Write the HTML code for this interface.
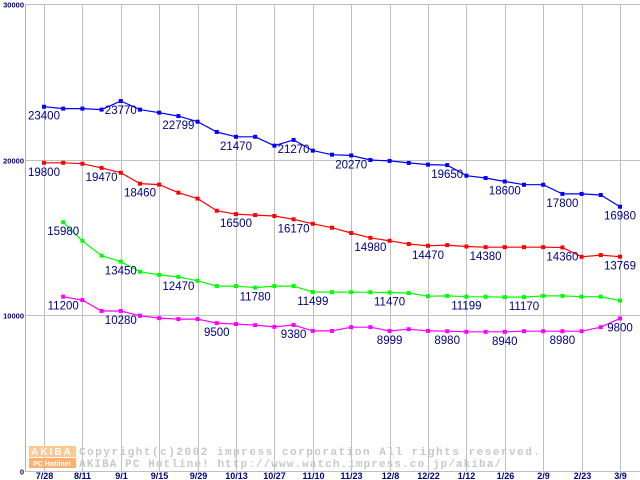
<!DOCTYPE html>
<html><head><meta charset="utf-8"><style>
body{margin:0;background:#fff;width:640px;height:480px;overflow:hidden}
svg{display:block;font-family:"Liberation Sans",sans-serif}
</style></head><body>
<svg id="chart" width="640" height="480" viewBox="0 0 640 480" xmlns="http://www.w3.org/2000/svg">
<g id="grid"></g>
<g id="watermark">
  <rect x="29" y="446" width="47" height="11" fill="#ffc890"/>
  <text x="52" y="455" text-anchor="middle" font-size="10" font-weight="bold" fill="#fff" letter-spacing="2">AKIBA</text>
  <rect x="29" y="458" width="47" height="10" fill="#ffb070"/>
  <text x="52" y="466" text-anchor="middle" font-size="7" font-weight="bold" fill="#fff">PC Hotline!</text>
  <text x="79" y="455" textLength="461" lengthAdjust="spacing" font-family="Liberation Mono, monospace" font-size="11" font-weight="bold" fill="#c8c8c8">Copyright(c)2002 impress corporation All rights reserved.</text>
  <text x="79" y="467" textLength="422" lengthAdjust="spacing" font-family="Liberation Mono, monospace" font-size="11" font-weight="bold" fill="#c8c8c8">AKIBA PC Hotline!  http://www.watch.impress.co.jp/akiba/</text>
</g>
<g id="series"></g>
<g id="labels"></g>
</svg>
<script>
const xTickLabels = ["7/28","8/11","9/1","9/15","9/29","10/13","10/27","11/10","11/23","12/8","12/22","1/12","1/26","2/9","2/23","3/9"];
const yTicks = [0,10000,20000,30000];
const blueValues = [23400,23280,23280,23215,23770,23215,23020,22799,22440,21780,21470,21470,20900,21270,20580,20320,20270,19980,19920,19790,19680,19650,18970,18820,18600,18390,18390,17800,17800,17730,16980];
const redValues = [19800,19800,19740,19470,19160,18460,18400,17880,17500,16720,16500,16440,16380,16170,15880,15630,15290,14980,14790,14580,14470,14510,14420,14380,14380,14380,14380,14360,13760,13870,13769];
const greenValues = [null,15980,14790,13830,13450,12800,12600,12470,12220,11880,11880,11780,11880,11880,11499,11490,11490,11480,11470,11430,11230,11250,11199,11190,11170,11170,11250,11250,11200,11200,10950];
const magentaValues = [null,11200,10980,10280,10280,9970,9820,9760,9760,9500,9440,9370,9260,9380,9000,9000,9240,9240,8999,9110,9000,8980,8940,8940,8940,8980,8980,8980,8980,9240,9800];
const blueLabelIdx = [0,4,7,10,13,16,21,24,27,30];
const redLabelIdx = [0,3,5,10,13,17,20,23,27,30];
const greenLabelIdx = [1,4,7,11,14,18,22,25];
const magentaLabelIdx = [1,4,9,13,18,21,24,27,30];

const NS="http://www.w3.org/2000/svg";
const X0=44, STEP=19.2;
function xScale(i){return X0+STEP*i;}
function yScale(v){return 471 - v*(467/30000);}
function mk(tag,attrs,parent){const e=document.createElementNS(NS,tag);for(const k in attrs)e.setAttribute(k,attrs[k]);parent.appendChild(e);return e;}

const grid=document.getElementById('grid');
xTickLabels.forEach((t,k)=>{
  const x=Math.round(xScale(k*2))+0.5;
  const l=mk('line',{x1:x,y1:4,x2:x,y2:471,stroke:'#c0c0c0','stroke-width':1},grid);
  
  
  const tx=mk('text',{x:x,y:479,'text-anchor':'middle','font-size':9,'font-weight':'bold',fill:'#000080'},grid);
  tx.textContent=t;
  
  
});
yTicks.forEach(v=>{
  const y=Math.round(yScale(v))+0.5;
  const l=mk('line',{x1:25,y1:y,x2:640,y2:y,stroke:'#c0c0c0','stroke-width':1},grid);
  
  
  const tx=mk('text',{x:24,y:y+3,'text-anchor':'end','font-size':7.5,'font-weight':'bold',fill:'#000080'},grid);
  tx.textContent=String(v);
  
  
});
const ax=mk('line',{x1:25.5,y1:4,x2:25.5,y2:471,stroke:'#b0b0b0','stroke-width':1},grid);



const seriesG=document.getElementById('series'), labelsG=document.getElementById('labels');
function drawSeries(vals,color,name,labelIdx){
  const g=mk('g',{},seriesG);
  
  
  const pts=[];
  vals.forEach((v,i)=>{if(v!=null)pts.push([xScale(i),yScale(v)]);});
  const p=mk('polyline',{points:pts.map(q=>q[0].toFixed(1)+','+q[1].toFixed(1)).join(' '),fill:'none',stroke:color,'stroke-width':1.2},g);
  
  
  vals.forEach((v,i)=>{
    if(v==null)return;
    const r=mk('rect',{x:xScale(i)-2,y:yScale(v)-2,width:4,height:4,fill:color},g);
    
    
  });
  labelIdx.forEach(i=>{
    const v=vals[i]; if(v==null)return;
    let x=xScale(i); if(x>624)x=624;
    const t=mk('text',{x:x,y:yScale(v)+13,'text-anchor':'middle','font-size':11.5,fill:'#000080'},labelsG);
    t.textContent=String(v);
    
    
  });
}
drawSeries(blueValues,'#0000ff','blue',blueLabelIdx);
drawSeries(redValues,'#ff0000','red',redLabelIdx);
drawSeries(greenValues,'#00ff00','green',greenLabelIdx);
drawSeries(magentaValues,'#ff00ff','magenta',magentaLabelIdx);
</script>
</body></html>
